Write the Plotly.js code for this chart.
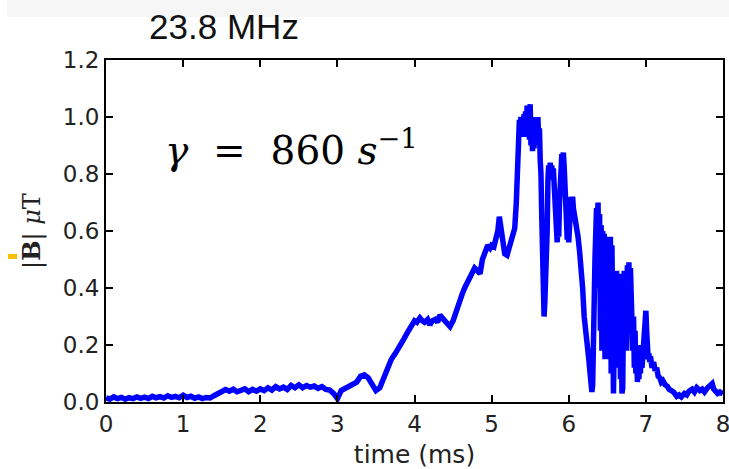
<!DOCTYPE html>
<html>
<head>
<meta charset="utf-8">
<script src="https://cdn.plot.ly/plotly-3.0.1.min.js"></script>
<style>html,body{margin:0;padding:0;background:#fff;}#chart{width:729px;height:469px;}</style>
</head>
<body>
<div id="chart"></div>
<script>
// time in ms
const timeMs = [
 0.00,0.05,0.10,0.15,0.20,0.25,0.30,0.35,0.40,0.45,
 0.50,0.55,0.60,0.65,0.70,0.75,0.80,0.85,0.90,0.95,
 1.00,1.05,1.10,1.15,1.20,1.25,1.30,1.35,1.40,1.45,
 1.50,1.55,1.60,1.65,1.70,1.75,1.80,1.85,1.90,1.95,
 2.00,2.05,2.10,2.15,2.20,2.25,2.30,2.35,2.40,2.45,
 2.50,2.55,2.60,2.65,2.70,2.75,2.80,2.85,2.90,2.95,
 3.00,3.05,3.10,3.15,3.20,3.25,3.30,3.35,3.40,3.45,
 3.50,3.55,3.60,3.65,3.70,3.75,3.80,3.85,3.90,3.95,
 4.00,4.03,4.07,4.10,4.13,4.17,4.20,4.23,4.27,4.30,
 4.33,4.36,4.40,4.43,4.46,4.50,4.55,4.59,4.62,4.65,
 4.70,4.74,4.78,4.82,4.85,4.88,4.92,4.95,4.98,5.00,
 5.03,5.06,5.08,5.10,5.12,5.14,5.17,5.20,5.23,5.26,
 5.28,5.30,5.32,5.34,5.36,5.37,5.38,5.39,5.40,5.41,
 5.42,5.43,5.44,5.45,5.46,5.47,5.48,5.49,5.50,5.51,
 5.52,5.53,5.54,5.55,5.56,5.57,5.58,5.59,5.60,5.61,
 5.62,5.63,5.64,5.65,5.66,5.67,5.68,5.69,5.70,5.71,
 5.72,5.73,5.74,5.75,5.76,5.77,5.78,5.79,5.80,5.81,
 5.82,5.83,5.84,5.85,5.86,5.87,5.88,5.89,5.90,5.91,
 5.92,5.93,5.94,5.95,5.96,5.97,5.98,5.99,6.00,6.01,
 6.02,6.03,6.04,6.05,6.06,6.08,6.10,6.12,6.14,6.16,
 6.18,6.20,6.22,6.24,6.26,6.28,6.29,6.30,6.31,6.32,
 6.33,6.34,6.35,6.36,6.37,6.38,6.39,6.40,6.41,6.42,
 6.43,6.44,6.45,6.46,6.47,6.48,6.49,6.50,6.51,6.52,
 6.53,6.54,6.55,6.56,6.57,6.58,6.59,6.60,6.61,6.62,
 6.63,6.64,6.65,6.66,6.67,6.68,6.69,6.70,6.71,6.72,
 6.73,6.74,6.75,6.76,6.77,6.78,6.79,6.80,6.81,6.82,
 6.83,6.84,6.85,6.86,6.87,6.88,6.89,6.90,6.91,6.92,
 6.93,6.94,6.95,6.96,6.97,6.98,6.99,7.00,7.01,7.02,
 7.03,7.04,7.05,7.06,7.08,7.10,7.12,7.14,7.16,7.18,
 7.20,7.22,7.25,7.28,7.30,7.33,7.36,7.40,7.43,7.46,
 7.50,7.53,7.56,7.60,7.63,7.66,7.70,7.73,7.76,7.80,
 7.83,7.86,7.88,7.90,7.93,7.96,8.00
];
// |B| in microtesla
const bField = [
 0.015,0.010,0.018,0.012,0.016,0.010,0.015,0.012,0.018,0.013,
 0.017,0.012,0.020,0.015,0.019,0.014,0.022,0.016,0.020,0.015,
 0.024,0.016,0.020,0.013,0.018,0.012,0.016,0.014,0.022,0.030,
 0.038,0.044,0.038,0.045,0.036,0.042,0.046,0.036,0.044,0.038,
 0.046,0.040,0.050,0.042,0.054,0.046,0.052,0.044,0.058,0.050,
 0.060,0.050,0.058,0.052,0.056,0.048,0.054,0.044,0.042,0.030,
 0.012,0.040,0.048,0.052,0.062,0.070,0.090,0.095,0.085,0.060,
 0.040,0.050,0.085,0.120,0.150,0.170,0.190,0.215,0.240,0.265,
 0.285,0.280,0.295,0.285,0.280,0.290,0.270,0.285,0.290,0.280,
 0.305,0.295,0.285,0.275,0.265,0.285,0.330,0.360,0.380,0.400,
 0.430,0.450,0.470,0.460,0.450,0.500,0.530,0.550,0.540,0.550,
 0.545,0.570,0.600,0.650,0.620,0.570,0.520,0.515,0.545,0.570,
 0.580,0.610,0.700,0.850,0.990,0.960,1.000,0.940,0.980,0.930,
 1.010,0.950,1.020,0.930,1.040,0.950,1.030,0.920,1.045,0.900,
 0.980,0.880,0.960,0.890,1.000,0.910,0.990,0.900,1.000,0.920,
 0.960,0.850,0.800,0.650,0.500,0.380,0.300,0.350,0.420,0.480,
 0.600,0.780,0.830,0.800,0.840,0.790,0.830,0.780,0.820,0.760,
 0.720,0.650,0.600,0.560,0.620,0.580,0.700,0.800,0.850,0.870,
 0.860,0.875,0.830,0.790,0.700,0.640,0.570,0.600,0.560,0.640,
 0.700,0.720,0.690,0.720,0.680,0.650,0.620,0.580,0.530,0.480,
 0.400,0.300,0.260,0.200,0.150,0.090,0.050,0.035,0.060,0.150,
 0.350,0.500,0.600,0.680,0.640,0.700,0.400,0.660,0.250,0.620,
 0.180,0.600,0.220,0.590,0.150,0.560,0.300,0.580,0.200,0.500,
 0.150,0.580,0.100,0.550,0.080,0.030,0.200,0.450,0.150,0.460,
 0.200,0.420,0.120,0.450,0.080,0.300,0.030,0.050,0.350,0.460,
 0.250,0.460,0.180,0.480,0.250,0.490,0.300,0.470,0.250,0.350,
 0.180,0.300,0.120,0.250,0.100,0.200,0.070,0.160,0.080,0.180,
 0.100,0.200,0.120,0.180,0.150,0.230,0.300,0.320,0.250,0.180,
 0.150,0.170,0.140,0.160,0.120,0.140,0.110,0.120,0.090,0.085,
 0.070,0.075,0.060,0.055,0.045,0.040,0.035,0.020,0.025,0.018,
 0.030,0.025,0.038,0.045,0.035,0.050,0.040,0.045,0.035,0.050,
 0.060,0.065,0.045,0.040,0.030,0.035,0.028
];
const xTickVals = [0,1,2,3,4,5,6,7,8];
const yTickVals = [0.0,0.2,0.4,0.6,0.8,1.0,1.2];
const yTickText = ['0.0','0.2','0.4','0.6','0.8','1.0','1.2'];

const trace = {
  x: timeMs, y: bField, type: 'scatter', mode: 'lines',
  line: {color: '#0000ff', width: 5.5, shape: 'linear'},
  hoverinfo: 'skip', showlegend: false
};

const W = 617, H = 342;
const px = v => (v - 106) / W;
const py = v => (402 - v) / H;

const axisCommon = {
  showline: true, linecolor: '#000', linewidth: 2, mirror: 'ticks',
  ticks: 'inside', ticklen: 7, tickwidth: 2, tickcolor: '#000',
  showgrid: false, zeroline: false, ticklabeloverflow: 'allow',
  tickfont: {family: 'DejaVu Sans, sans-serif', size: 23, color: '#222'}
};

const layout = {
  width: 729, height: 469,
  margin: {l: 106, r: 6, t: 60, b: 67},
  paper_bgcolor: '#fff', plot_bgcolor: '#fff',
  title: {
    text: '23.8 MHz', x: 224/729, xref: 'container', xanchor: 'center',
    y: 1 - 27/469, yref: 'container', yanchor: 'middle',
    font: {family: 'Liberation Sans, Arial, sans-serif', size: 35, color: '#111'}
  },
  xaxis: Object.assign({}, axisCommon, {
    range: [0, 8], tickvals: xTickVals,
    title: {text: 'time (ms)', standoff: 10,
      font: {family: 'DejaVu Sans, sans-serif', size: 25, color: '#222'}}
  }),
  yaxis: Object.assign({}, axisCommon, {
    range: [0, 1.2], tickvals: yTickVals, ticktext: yTickText,
    title: {text: '|<b>B</b>| <i>μ</i>T', standoff: 15,
      font: {family: 'DejaVu Serif, serif', size: 24, color: '#222'}}
  }),
  annotations: [{
    xref: 'paper', yref: 'paper', x: px(163), y: py(148),
    xanchor: 'left', yanchor: 'middle', showarrow: false,
    text: '<i>γ</i>  =  860 <i>s</i><sup>−1</sup>',
    font: {family: 'DejaVu Serif, serif', size: 39, color: '#000'}
  }],
  shapes: [
    {type: 'rect', xref: 'paper', yref: 'paper', x0: px(7), x1: px(729), y0: py(17), y1: py(0),
     fillcolor: '#f6f6f6', line: {width: 0}, layer: 'below'},
    {type: 'rect', xref: 'paper', yref: 'paper', x0: px(8), x1: px(17), y0: py(259), y1: py(254),
     fillcolor: '#ffc000', line: {width: 0}, layer: 'above'}
  ]
};

Plotly.newPlot('chart', [trace], layout, {displayModeBar: false, staticPlot: true});
</script>
</body>
</html>
